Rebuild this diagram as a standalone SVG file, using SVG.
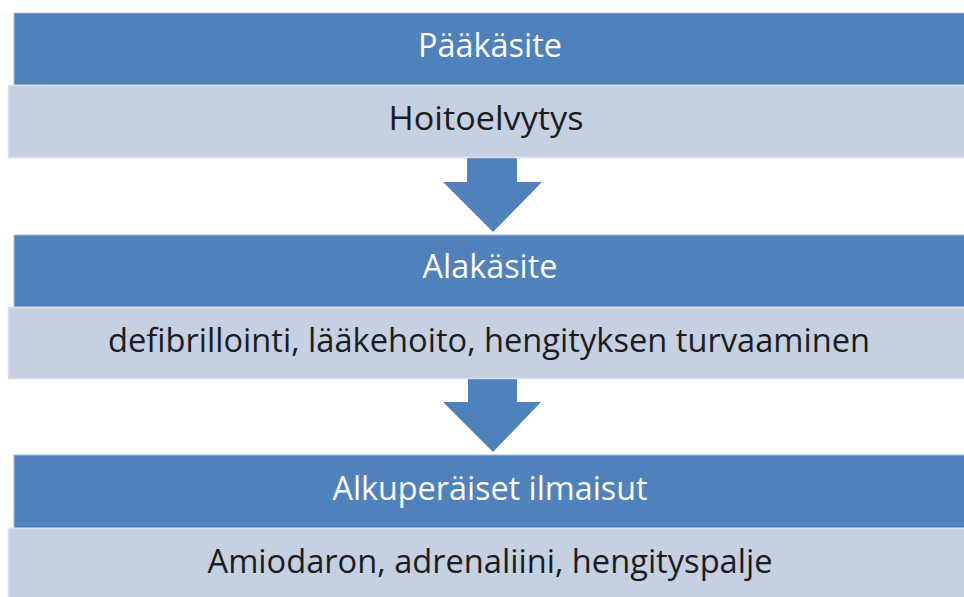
<svg xmlns="http://www.w3.org/2000/svg" width="964" height="597" viewBox="0 0 964 597">
<style>
.head{fill:#4F81BD;stroke:#A9BFDD;stroke-width:1}
.body{fill:#C5D0E3;stroke:#D9E0EC;stroke-width:1.5}
.arrow{fill:#4F81BD}
.ht{font-family:"Open Sans","Noto Sans",sans-serif;font-size:32px;fill:#FFFFFF;text-anchor:middle}
.bt{font-family:"Open Sans","Noto Sans",sans-serif;font-size:32px;fill:#1C1C1C;text-anchor:middle}
</style>
<rect width="964" height="597" fill="#FFFFFF"/>
<g id="connectors">
<path class="arrow" d="M467,158 L517,158 L517,182 L542,182 L493,232 L443,182 L467,182 Z"/>
<path class="arrow" d="M468,378 L517,378 L517,402 L541,402 L493,452 L443,402 L468,402 Z"/>
</g>
<g id="node-paakasite">
<rect class="head" x="14" y="13" width="960" height="72"/>
<text class="ht" x="490" y="57" textLength="144" lengthAdjust="spacingAndGlyphs">Pääkäsite</text>
</g>
<g id="node-hoitoelvytys">
<rect class="body" x="8.5" y="85.5" width="965" height="72"/>
<text class="bt" x="486" y="130" textLength="195" lengthAdjust="spacingAndGlyphs">Hoitoelvytys</text>
</g>
<g id="node-alakasite">
<rect class="head" x="14" y="235" width="960" height="72"/>
<text class="ht" x="490" y="278" textLength="135" lengthAdjust="spacingAndGlyphs">Alakäsite</text>
</g>
<g id="node-alakasite-body">
<rect class="body" x="8.5" y="307.5" width="965" height="71"/>
<text class="bt" x="489" y="352" textLength="762" lengthAdjust="spacingAndGlyphs">defibrillointi, lääkehoito, hengityksen turvaaminen</text>
</g>
<g id="node-alkuperaiset">
<rect class="head" x="14" y="455" width="960" height="73"/>
<text class="ht" x="490" y="500" textLength="315" lengthAdjust="spacingAndGlyphs">Alkuperäiset ilmaisut</text>
</g>
<g id="node-alkuperaiset-body">
<rect class="body" x="8.5" y="528.5" width="965" height="80"/>
<text class="bt" x="490" y="573" textLength="565" lengthAdjust="spacingAndGlyphs">Amiodaron, adrenaliini, hengityspalje</text>
</g>
</svg>
